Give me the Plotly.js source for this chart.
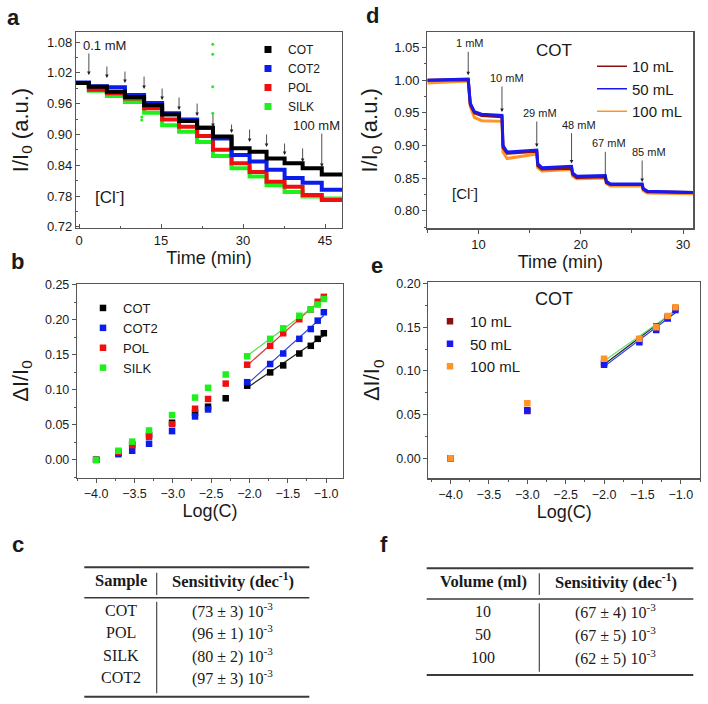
<!DOCTYPE html>
<html><head><meta charset="utf-8">
<script src="https://cdn.plot.ly/plotly-3.0.1.min.js"></script>
<style>html,body{margin:0;padding:0;background:#fff}#g{width:708px;height:704px}</style>
</head><body><div id="g"></div>
<script>
// ---------- Panel a : I/I0 vs time, step additions ----------
const stepTimesA = [1.8, 5.1, 8.4, 11.9, 15.2, 18.3, 21.6, 24.5, 27.9, 31.2, 34.3, 37.6, 40.9, 44.4];
const timeStartA = -0.55, timeEndA = 48.1;
const levelsCOT  = [1.000, 0.993, 0.983, 0.973, 0.957, 0.939, 0.926, 0.913, 0.896, 0.873, 0.866, 0.853, 0.844, 0.834, 0.822];
const levelsCOT2 = [1.001, 0.994, 0.992, 0.977, 0.961, 0.941, 0.929, 0.913, 0.892, 0.860, 0.847, 0.831, 0.815, 0.806, 0.792];
const levelsPOL  = [1.000, 0.987, 0.980, 0.970, 0.951, 0.929, 0.915, 0.897, 0.870, 0.844, 0.827, 0.808, 0.798, 0.782, 0.772];
const levelsSILK = [1.000, 0.985, 0.975, 0.963, 0.942, 0.918, 0.905, 0.885, 0.858, 0.834, 0.818, 0.801, 0.788, 0.779, 0.775];
const arrowHeadA = [1.0157, 1.0099, 1.0001, 0.9884, 0.967, 0.9475, 0.9358, 0.9144, 0.9027, 0.8852, 0.8755, 0.8599, 0.8462, 0.8365];
const arrowLabelsA = ['0.1 mM', '', '', '', '', '', '', '', '', '', '', '', '', '100 mM'];
const spikeT = [11.47, 11.47, 24.46, 24.46, 24.46, 24.46];
const spikeV = [0.934, 0.928, 1.0755, 1.056, 0.993, 0.941];
const seriesA = ['COT', 'COT2', 'POL', 'SILK'];

// ---------- Panel b : dI/I0 vs Log(C) ----------
const logCb = [-4.0, -3.71, -3.53, -3.31, -3.01, -2.71, -2.54, -2.31, -2.03, -1.73, -1.56, -1.35, -1.20, -1.11, -1.03];
const dCOT  = [0, 0.010, 0.022, 0.0355, 0.053, 0.067, 0.076, 0.088, 0.106, 0.125, 0.135, 0.152, 0.163, 0.173, 0.181];
const dCOT2 = [0, 0.008, 0.013, 0.023, 0.041, 0.062, 0.072, null, 0.111, 0.137, 0.152, 0.173, 0.187, 0.199, 0.211];
const dPOL  = [0, 0.011, 0.021, 0.033, 0.051, 0.073, 0.087, 0.109, 0.136, 0.163, 0.181, 0.201, 0.215, 0.226, 0.233];
const dSILK = [0, 0.013, 0.026, 0.042, 0.064, 0.089, 0.103, 0.122, 0.148, 0.173, 0.188, 0.206, 0.215, 0.222, 0.230];
const fitStartB = 8;

// ---------- Panel d : COT, volumes ----------
const tD   = [5, 9.0, 9.2, 9.6, 10.3, 12.3, 12.4, 12.8, 15.7, 15.8, 16.2, 19.1, 19.2, 19.6, 22.4, 22.5, 22.9, 26.0, 26.1, 26.5, 31];
const v10  = [1.000, 1.001, 0.963, 0.950, 0.946, 0.944, 0.897, 0.888, 0.891, 0.869, 0.864, 0.865, 0.856, 0.851, 0.852, 0.843, 0.840, 0.840, 0.833, 0.829, 0.828];
const v50  = [1.000, 1.002, 0.965, 0.952, 0.948, 0.946, 0.900, 0.890, 0.893, 0.872, 0.866, 0.868, 0.858, 0.853, 0.854, 0.845, 0.841, 0.841, 0.834, 0.830, 0.828];
const v100 = [0.996, 0.999, 0.960, 0.943, 0.938, 0.937, 0.890, 0.880, 0.887, 0.866, 0.861, 0.863, 0.853, 0.849, 0.850, 0.842, 0.838, 0.838, 0.831, 0.827, 0.826];
const stepTimesD = [9.0, 12.3, 15.7, 19.1, 22.4, 26.0];
const arrowHeadD = [1.0077, 0.9514, 0.8977, 0.8722, 0.8466, 0.844];
const arrowLabelsD = ['1 mM', '10 mM', '29 mM', '48 mM', '67 mM', '85 mM'];

// ---------- Panel e : COT dI/I0 vs Log(C) ----------
const logCe = [-4.0, -3.0, -2.0, -1.54, -1.32, -1.17, -1.07];
const e10  = [0, 0.054, 0.109, 0.136, 0.151, 0.162, 0.172];
const e50  = [0, 0.055, 0.107, 0.133, 0.147, 0.160, 0.170];
const e100 = [0, 0.063, 0.114, 0.137, 0.150, 0.163, 0.173];
const fitStartE = 2;

// ---------- Tables c and f ----------
const samplesC = ['COT', 'POL', 'SILK', 'COT2'];
const meanC = [73, 96, 80, 97];
const errC = [3, 1, 2, 3];
const volumesF = [10, 50, 100];
const meanF = [67, 67, 62];
const errF = [4, 5, 5];

// ================= drawing =================
const W = 708, H = 704;
const px = x => x / W, py = y => 1 - y / H;
const FONT = 'Liberation Sans, Arial, sans-serif';
const SERIF = 'Liberation Serif, Times New Roman, serif';
const TXT = '#1a1a1a';

const colA = {COT: '#000000', COT2: '#0a1ee8', POL: '#ee1010', SILK: '#1ef01e'};
const colD = {v10: '#8b1010', v50: '#1818f0', v100: '#ff9428'};

function steps(levels) {
  return {x: [timeStartA, ...stepTimesA, timeEndA], y: [...levels, levels[levels.length - 1]]};
}
function linfit(xs, ys, from) {
  const X = [], Y = [];
  for (let i = from; i < xs.length; i++) if (ys[i] !== null) { X.push(xs[i]); Y.push(ys[i]); }
  const n = X.length, mx = X.reduce((a, b) => a + b) / n, my = Y.reduce((a, b) => a + b) / n;
  let sxy = 0, sxx = 0;
  for (let i = 0; i < n; i++) { sxy += (X[i] - mx) * (Y[i] - my); sxx += (X[i] - mx) ** 2; }
  const m = sxy / sxx, b = my - m * mx;
  return {x: [X[0], X[n - 1]], y: [m * X[0] + b, m * X[n - 1] + b]};
}

const traces = [];
// panel a lines (green bottom, black top)
const levelMap = {COT: levelsCOT, COT2: levelsCOT2, POL: levelsPOL, SILK: levelsSILK};
['SILK', 'POL', 'COT2', 'COT'].forEach(s => {
  const st = steps(levelMap[s]);
  traces.push({type: 'scatter', mode: 'lines', x: st.x, y: st.y, line: {color: colA[s], width: 4, shape: 'hv'},
    xaxis: 'x', yaxis: 'y', showlegend: false, hoverinfo: 'skip'});
});
traces.push({type: 'scatter', mode: 'markers', x: spikeT, y: spikeV, marker: {color: colA.SILK, size: 3},
  xaxis: 'x', yaxis: 'y', showlegend: false});
seriesA.forEach(s => traces.push({type: 'scatter', mode: 'markers', x: [null], y: [null], name: s,
  marker: {symbol: 'square', color: colA[s], size: 7}, xaxis: 'x', yaxis: 'y', legend: 'legend'}));

// panel b
const bMap = {COT: dCOT, COT2: dCOT2, POL: dPOL, SILK: dSILK};
const fitColB = {COT: '#222222', COT2: '#3344dd', POL: '#dd3333', SILK: '#55dd55'};
['COT', 'COT2', 'POL', 'SILK'].forEach(s => {
  const f = linfit(logCb, bMap[s], fitStartB);
  traces.push({type: 'scatter', mode: 'lines', x: f.x, y: f.y, line: {color: fitColB[s], width: 1.2},
    xaxis: 'x3', yaxis: 'y3', showlegend: false});
});
const rankB = {COT: 1, COT2: 2, POL: 3, SILK: 4};
['COT', 'COT2', 'POL', 'SILK'].forEach(s => {
  traces.push({type: 'scatter', mode: 'markers', x: logCb, y: bMap[s], name: s, legendrank: rankB[s],
    marker: {symbol: 'square', color: colA[s], size: 6.5}, xaxis: 'x3', yaxis: 'y3', legend: 'legend3'});
});

// panel d
[['100 mL', v100, colD.v100], ['10 mL', v10, colD.v10], ['50 mL', v50, colD.v50]].forEach(([n, v, c]) => {
  traces.push({type: 'scatter', mode: 'lines', x: tD, y: v, name: n, showlegend: false,
    line: {color: c, width: 3}, xaxis: 'x2', yaxis: 'y2'});
});
[['10 mL', colD.v10], ['50 mL', colD.v50], ['100 mL', colD.v100]].forEach(([n, c]) => {
  traces.push({type: 'scatter', mode: 'lines', x: [null], y: [null], name: n,
    line: {color: c, width: 1.5}, xaxis: 'x2', yaxis: 'y2', legend: 'legend2'});
});

// panel e
const fitColE = {'10 mL': '#222222', '50 mL': '#2233ee', '100 mL': '#66dd66'};
[['10 mL', e10], ['50 mL', e50], ['100 mL', e100]].forEach(([n, v]) => {
  const f = linfit(logCe, v, fitStartE);
  traces.push({type: 'scatter', mode: 'lines', x: f.x, y: f.y, line: {color: fitColE[n], width: 1.2},
    xaxis: 'x4', yaxis: 'y4', showlegend: false});
});
[['10 mL', e10, colD.v10, 1], ['50 mL', e50, colD.v50, 2], ['100 mL', e100, colD.v100, 3]].forEach(([n, v, c, r]) => {
  traces.push({type: 'scatter', mode: 'markers', x: logCe, y: v, name: n, legendrank: r,
    marker: {symbol: 'square', color: c, size: 6.5}, xaxis: 'x4', yaxis: 'y4', legend: 'legend4'});
});

// axes
function axis(o) {
  return Object.assign({showline: true, mirror: true, linecolor: '#555', linewidth: 1.2, ticks: 'outside', ticklen: 4,
    tickwidth: 1, tickcolor: '#555', showgrid: false, zeroline: false, automargin: false, fixedrange: true,
    tickfont: {size: 13, color: TXT, family: FONT}}, o);
}
const legBase = {xanchor: 'left', yanchor: 'top', bgcolor: 'rgba(0,0,0,0)', tracegroupgap: 0, itemclick: false};
const layout = {
  width: W, height: H, margin: {l: 0, r: 0, t: 0, b: 0}, paper_bgcolor: '#fff', plot_bgcolor: '#fff',
  font: {family: FONT, color: TXT}, showlegend: true,
  xaxis: axis({domain: [px(76), px(342)], anchor: 'y', range: [timeStartA, timeEndA], tick0: 0, dtick: 15, ticks: 'inside',
    minor: {dtick: 7.5, ticks: 'inside', ticklen: 2, tickcolor: '#555'},
    title: {text: 'Time (min)', font: {size: 18}, standoff: 4}}),
  yaxis: axis({domain: [py(228), py(32)], anchor: 'x', range: [0.7177, 1.0995], tick0: 0.72, dtick: 0.06, tickformat: '.2f', ticks: 'inside',
    minor: {dtick: 0.03, ticks: 'inside', ticklen: 2, tickcolor: '#555'},
    title: {text: 'I/I<sub>0</sub> (a.u.)', font: {size: 22}, standoff: 12}}),
  xaxis2: axis({domain: [px(427.3), px(693.3)], anchor: 'y2', range: [5, 31], tick0: 0, dtick: 10,
    minor: {dtick: 5, ticks: 'outside', ticklen: 3, tickcolor: '#555'},
    title: {text: 'Time (min)', font: {size: 18}, standoff: 4}}),
  yaxis2: axis({domain: [py(228.3), py(32.3)], anchor: 'x2', range: [0.773, 1.0736], tick0: 0.8, dtick: 0.05, tickformat: '.2f',
    minor: {dtick: 0.025, ticks: 'outside', ticklen: 2, tickcolor: '#555'},
    title: {text: 'I/I<sub>0</sub> (a.u.)', font: {size: 22}, standoff: 10}}),
  xaxis3: axis({domain: [px(77), px(343)], anchor: 'y3', range: [-4.25, -0.78], tick0: -4, dtick: 0.5, tickformat: '.1f',
    minor: {dtick: 0.25, ticks: 'outside', ticklen: 2, tickcolor: '#555'}, tickfont: {size: 12.5, color: TXT},
    title: {text: 'Log(C)', font: {size: 18}, standoff: 4}}),
  yaxis3: axis({domain: [py(478), py(284)], anchor: 'x3', range: [-0.026, 0.2514], tick0: 0, dtick: 0.05, tickformat: '.2f',
    minor: {dtick: 0.025, ticks: 'outside', ticklen: 2, tickcolor: '#555'}, tickfont: {size: 12.5, color: TXT},
    title: {text: 'ΔI/I<sub>0</sub>', font: {size: 22}, standoff: 10}}),
  xaxis4: axis({domain: [px(428.3), px(700)], anchor: 'y4', range: [-4.29, -0.75], tick0: -4, dtick: 0.5, tickformat: '.1f',
    minor: {dtick: 0.25, ticks: 'outside', ticklen: 2, tickcolor: '#555'}, tickfont: {size: 12.5, color: TXT},
    title: {text: 'Log(C)', font: {size: 18}, standoff: 4}}),
  yaxis4: axis({domain: [py(478.3), py(282.3)], anchor: 'x4', range: [-0.023, 0.2016], tick0: 0, dtick: 0.05, tickformat: '.2f',
    minor: {dtick: 0.025, ticks: 'outside', ticklen: 2, tickcolor: '#555'}, tickfont: {size: 12.5, color: TXT},
    title: {text: 'ΔI/I<sub>0</sub>', font: {size: 22}, standoff: 10}}),
  legend: Object.assign({x: px(248), y: py(35), font: {size: 12, color: TXT}}, legBase),
  legend2: Object.assign({x: px(592), y: py(50), font: {size: 15, color: TXT}}, legBase),
  legend3: Object.assign({x: px(83), y: py(293), font: {size: 13, color: TXT}}, legBase),
  legend4: Object.assign({x: px(430), y: py(305), font: {size: 15, color: TXT}}, legBase),
  annotations: [], shapes: []
};
const A = layout.annotations, S = layout.shapes;
function ptxt(text, x, y, size, extra) {
  A.push(Object.assign({text, x: px(x), y: py(y), xref: 'paper', yref: 'paper', showarrow: false,
    xanchor: 'center', yanchor: 'middle', font: {size, color: TXT, family: FONT}}, extra || {}));
}
// panel letters
[['a', 13, 17], ['d', 372, 15], ['b', 17, 262], ['e', 377, 265], ['c', 18, 544], ['f', 384, 544]]
  .forEach(([t, x, y]) => ptxt('<b>' + t + '</b>', x, y, 22));
// [Cl-] and COT labels
ptxt('[Cl<sup>-</sup>]', 109, 196, 17);
ptxt('[Cl<sup>-</sup>]', 465, 192, 15);
ptxt('COT', 554, 50, 17);
ptxt('COT', 554, 299, 18);

// arrows panel a
const arrowLenA = [23, 13, 13, 14, 13, 14, 14, 14, 10, 14, 14, 13, 15, 35];
stepTimesA.forEach((t, i) => {
  A.push({xref: 'x', yref: 'y', x: t, y: arrowHeadA[i], ax: 0, ay: -arrowLenA[i], text: '', showarrow: true,
    arrowhead: 2, arrowsize: 0.9, arrowwidth: 0.8, arrowcolor: '#222'});
  if (arrowLabelsA[i]) {
    A.push({xref: 'x', yref: 'y', x: t, y: arrowHeadA[i], text: arrowLabelsA[i], showarrow: false,
      xshift: i === 0 ? 16 : -5, yshift: arrowLenA[i] + 7, font: {size: 13, color: TXT}});
  }
});
// arrows panel d
const arrowLenD = [25, 27, 27, 32, 30, 23];
const labelShiftD = [2, 5, 3, 7, 4, 7];
stepTimesD.forEach((t, i) => {
  A.push({xref: 'x2', yref: 'y2', x: t, y: arrowHeadD[i], ax: 0, ay: -arrowLenD[i], text: '', showarrow: true,
    arrowhead: 2, arrowsize: 0.9, arrowwidth: 0.8, arrowcolor: '#222'});
  A.push({xref: 'x2', yref: 'y2', x: t, y: arrowHeadD[i], text: arrowLabelsD[i], showarrow: false,
    xshift: labelShiftD[i], yshift: arrowLenD[i] + 7, font: {size: 11, color: TXT}});
});

// tables
function hline(x0, x1, y, w) {
  S.push({type: 'line', xref: 'paper', yref: 'paper', x0: px(x0), x1: px(x1), y0: py(y), y1: py(y), line: {color: '#3a3a3a', width: w}});
}
function vline(x, y0, y1) {
  S.push({type: 'line', xref: 'paper', yref: 'paper', x0: px(x), x1: px(x), y0: py(y0), y1: py(y1), line: {color: '#3a3a3a', width: 1.1}});
}
function stxt(text, x, y, size) {
  A.push({text, x: px(x), y: py(y), xref: 'paper', yref: 'paper', showarrow: false, xanchor: 'center', yanchor: 'middle',
    font: {size, color: TXT, family: SERIF}});
}
const sens = (m, e) => '(' + m + ' ± ' + e + ') 10<sup>-3</sup>';
// table c
hline(84.3, 309.3, 567.3, 2); hline(84.3, 309.3, 597.7, 1.4); hline(84.3, 309.3, 696.7, 2);
vline(156.7, 572.7, 595); vline(156.7, 601.7, 693.3);
stxt('<b>Sample</b>', 120.7, 580.7, 16.5);
stxt('<b>Sensitivity (dec<sup>-1</sup>)</b>', 232.7, 580.7, 16.5);
samplesC.forEach((s, i) => { const y = 610 + i * 22.6; stxt(s, 120.7, y, 16); stxt(sens(meanC[i], errC[i]), 232.7, y, 16); });
// table f
hline(426.7, 693.3, 568.3, 2); hline(426.7, 693.3, 599, 1.4); hline(426.7, 693.3, 675, 2);
vline(539.3, 573.3, 595); vline(539.3, 603.3, 671.7);
stxt('<b>Volume (ml)</b>', 483.3, 581.7, 16.5);
stxt('<b>Sensitivity (dec<sup>-1</sup>)</b>', 615.7, 581.7, 16.5);
volumesF.forEach((v, i) => { const y = 611.7 + i * 22.8; stxt(String(v), 483.3, y, 16); stxt(sens(meanF[i], errF[i]), 615.7, y, 16); });

Plotly.newPlot('g', traces, layout, {displayModeBar: false, staticPlot: true});
</script></body></html>
